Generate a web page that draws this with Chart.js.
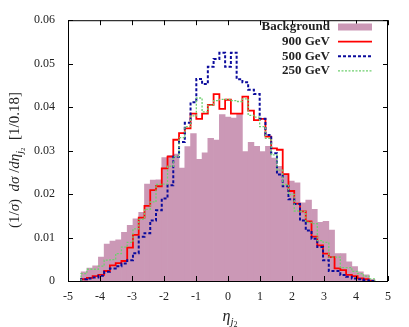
<!DOCTYPE html>
<html>
<head>
<meta charset="utf-8">
<script src="https://cdn.jsdelivr.net/npm/chart.js@4.4.1/dist/chart.umd.min.js"></script>
<style>
  body { margin: 0; background: #fff; }
</style>
</head>
<body>
<canvas id="myChart" width="409" height="327"></canvas>
<script>
// bin centres of the eta_j2 histogram (bin width 0.18)
const etaBins = [-4.50, -4.32, -4.14, -3.96, -3.78, -3.60, -3.42, -3.24, -3.06, -2.88,
                 -2.70, -2.52, -2.34, -2.16, -1.98, -1.80, -1.62, -1.44, -1.26, -1.08,
                 -0.90, -0.72, -0.54, -0.36, -0.18, 0.00, 0.18, 0.36, 0.54, 0.72,
                 0.90, 1.08, 1.26, 1.44, 1.62, 1.80, 1.98, 2.16, 2.34, 2.52,
                 2.70, 2.88, 3.06, 3.24, 3.42, 3.60, 3.78, 3.96, 4.14, 4.32, 4.50];
const binWidth = 0.18;

const background = [0.0021, 0.0030, 0.0035, 0.0055, 0.0085, 0.0092, 0.0095, 0.0112, 0.0128, 0.0143,
                    0.0158, 0.0223, 0.0232, 0.0233, 0.0284, 0.0289, 0.0292, 0.0260, 0.0309, 0.0339,
                    0.0280, 0.0295, 0.0328, 0.0324, 0.0383, 0.0377, 0.0375, 0.0385, 0.0298, 0.0319,
                    0.0310, 0.0298, 0.0310, 0.0283, 0.0264, 0.0246, 0.0230, 0.0226, 0.0180, 0.0186,
                    0.0165, 0.0135, 0.0137, 0.0117, 0.0063, 0.0063, 0.0044, 0.0033, 0.0021, 0.0014, 0.0004];

const gev900 = [0.0004, 0.0007, 0.0011, 0.0014, 0.0023, 0.0036, 0.0041, 0.0046, 0.0077, 0.0106,
                0.0146, 0.0173, 0.0209, 0.0218, 0.0259, 0.0286, 0.0325, 0.0340, 0.0351, 0.0385,
                0.0373, 0.0385, 0.0405, 0.0430, 0.0396, 0.0417, 0.0385, 0.0385, 0.0424, 0.0392,
                0.0370, 0.0373, 0.0332, 0.0305, 0.0302, 0.0246, 0.0207, 0.0178, 0.0160, 0.0137,
                0.0102, 0.0082, 0.0063, 0.0055, 0.0029, 0.0025, 0.0014, 0.0011, 0.0006, 0.0004, 0.0000];

const gev500 = [0.0004, 0.0006, 0.0008, 0.0012, 0.0021, 0.0029, 0.0034, 0.0040, 0.0048, 0.0064,
                0.0102, 0.0110, 0.0139, 0.0163, 0.0190, 0.0220, 0.0286, 0.0320, 0.0364, 0.0411,
                0.0465, 0.0453, 0.0493, 0.0511, 0.0525, 0.0493, 0.0525, 0.0464, 0.0457, 0.0440,
                0.0430, 0.0373, 0.0336, 0.0294, 0.0245, 0.0218, 0.0188, 0.0177, 0.0139, 0.0116,
                0.0097, 0.0078, 0.0048, 0.0023, 0.0023, 0.0014, 0.0010, 0.0006, 0.0004, 0.0002, 0.0000];

const gev250 = [0.0017, 0.0027, 0.0027, 0.0034, 0.0048, 0.0049, 0.0063, 0.0078, 0.0089, 0.0120,
                0.0142, 0.0165, 0.0182, 0.0222, 0.0223, 0.0264, 0.0286, 0.0330, 0.0355, 0.0380,
                0.0421, 0.0389, 0.0404, 0.0415, 0.0418, 0.0418, 0.0415, 0.0413, 0.0419, 0.0381,
                0.0377, 0.0355, 0.0328, 0.0290, 0.0255, 0.0222, 0.0199, 0.0161, 0.0160, 0.0135,
                0.0132, 0.0093, 0.0089, 0.0055, 0.0055, 0.0031, 0.0031, 0.0022, 0.0017, 0.0011, 0.0005];

const xTicks = [-5, -4, -3, -2, -1, 0, 1, 2, 3, 4, 5];
const yTicks = [0, 0.01, 0.02, 0.03, 0.04, 0.05, 0.06];

const pink = 'rgb(203, 152, 182)';

// turn bin values into a histogram outline (flat top over each bin)
function stepPoints(values) {
    const pts = [{ x: etaBins[0] - binWidth / 2, y: 0 }];
    values.forEach((v, i) => {
        pts.push({ x: etaBins[i] - binWidth / 2, y: v });
        pts.push({ x: etaBins[i] + binWidth / 2, y: v });
    });
    pts.push({ x: etaBins[etaBins.length - 1] + binWidth / 2, y: 0 });
    return pts;
}

// draw a run of text pieces (for sub/superscripts) centred on cx
function drawRich(ctx, pieces, cx, cy) {
    let total = 0;
    pieces.forEach(p => { ctx.font = p.font; total += ctx.measureText(p.t).width; });
    let x = cx - total / 2;
    pieces.forEach(p => {
        ctx.font = p.font;
        ctx.fillText(p.t, x, cy + (p.dy || 0));
        x += ctx.measureText(p.t).width;
    });
}

const legendItems = [
    { label: 'Background', kind: 'box', color: pink },
    { label: '900 GeV', color: '#ff0000', width: 1.8, dash: [] },
    { label: '500 GeV', color: '#0b0b9c', width: 2, dash: [3, 2] },
    { label: '250 GeV', color: '#6fcf6f', width: 1.3, dash: [2, 1.5] }
];

const framePlugin = {
    id: 'frame',
    afterDraw(chart) {
        const { ctx, chartArea: a, scales } = chart;
        ctx.save();
        ctx.strokeStyle = '#000';
        ctx.lineWidth = 1;
        ctx.strokeRect(a.left + 0.5, a.top + 0.5, a.right - a.left - 1, a.bottom - a.top);

        // inward ticks on all four sides
        ctx.beginPath();
        xTicks.forEach(v => {
            const px = Math.round(scales.x.getPixelForValue(v)) + 0.5;
            ctx.moveTo(px, a.bottom); ctx.lineTo(px, a.bottom - 5);
            ctx.moveTo(px, a.top); ctx.lineTo(px, a.top + 5);
        });
        yTicks.forEach(v => {
            const py = Math.round(scales.y.getPixelForValue(v)) + 0.5;
            ctx.moveTo(a.left, py); ctx.lineTo(a.left + 5, py);
            ctx.moveTo(a.right, py); ctx.lineTo(a.right - 5, py);
        });
        ctx.stroke();

        // legend, text right aligned with the sample on the right
        ctx.textBaseline = 'middle';
        legendItems.forEach((item, i) => {
            const y = 27 + i * 14.6;
            ctx.font = 'bold 13px "Liberation Serif"';
            ctx.fillStyle = '#222';
            ctx.textAlign = 'right';
            ctx.fillText(item.label, 330, y);
            if (item.kind === 'box') {
                ctx.fillStyle = item.color;
                ctx.fillRect(338, y - 3.5, 34, 7);
            } else {
                ctx.strokeStyle = item.color;
                ctx.lineWidth = item.width;
                ctx.setLineDash(item.dash);
                ctx.beginPath();
                ctx.moveTo(338, y); ctx.lineTo(372, y);
                ctx.stroke();
                ctx.setLineDash([]);
            }
        });

        // axis titles
        ctx.fillStyle = '#222';
        ctx.textAlign = 'left';
        ctx.textBaseline = 'alphabetic';
        drawRich(ctx, [
            { t: 'η', font: 'italic 16px "Liberation Serif"' },
            { t: 'j', font: 'italic 11px "Liberation Serif"', dy: 4 },
            { t: '2', font: '8px "Liberation Serif"', dy: 6 }
        ], 230, 321);

        ctx.translate(19, 160);
        ctx.rotate(-Math.PI / 2);
        drawRich(ctx, [
            { t: '(1/', font: '15px "Liberation Serif"' },
            { t: 'σ', font: 'italic 15px "Liberation Serif"' },
            { t: ')  ', font: '15px "Liberation Serif"' },
            { t: 'dσ', font: 'italic 15px "Liberation Serif"' },
            { t: ' /', font: '15px "Liberation Serif"' },
            { t: 'dη', font: 'italic 15px "Liberation Serif"' },
            { t: 'j', font: 'italic 10px "Liberation Serif"', dy: 4 },
            { t: '2', font: '7px "Liberation Serif"', dy: 6 },
            { t: '  [1/0.18]', font: '15px "Liberation Serif"' }
        ], 0, 0);
        ctx.restore();
    }
};

function plotGraph() {
    const ctx = document.getElementById('myChart').getContext('2d');

    new Chart(ctx, {
        type: 'line',
        data: {
            datasets: [
                {
                    type: 'bar',
                    label: 'Background',
                    data: etaBins.map((x, i) => ({ x: x, y: background[i] })),
                    backgroundColor: pink,
                    borderWidth: 0,
                    barPercentage: 1,
                    categoryPercentage: 1,
                    order: 4
                },
                {
                    label: '900 GeV',
                    data: stepPoints(gev900),
                    borderColor: '#ff0000',
                    borderWidth: 1.8,
                    pointRadius: 0,
                    fill: false,
                    order: 3
                },
                {
                    label: '500 GeV',
                    data: stepPoints(gev500),
                    borderColor: '#0b0b9c',
                    borderWidth: 2,
                    borderDash: [3, 2],
                    pointRadius: 0,
                    fill: false,
                    order: 2
                },
                {
                    label: '250 GeV',
                    data: stepPoints(gev250),
                    borderColor: '#6fcf6f',
                    borderWidth: 1.3,
                    borderDash: [2, 1.5],
                    pointRadius: 0,
                    fill: false,
                    order: 1
                }
            ]
        },
        options: {
            responsive: false,
            animation: false,
            layout: { padding: { left: 0, right: 21, top: 17, bottom: 0 } },
            plugins: { legend: { display: false }, tooltip: { enabled: false } },
            scales: {
                x: {
                    type: 'linear',
                    min: -5,
                    max: 5,
                    offset: false,
                    grid: { display: false, drawTicks: false },
                    border: { display: false },
                    afterBuildTicks: s => { s.ticks = xTicks.map(v => ({ value: v })); },
                    afterFit: s => { s.height = 46; },
                    ticks: {
                        padding: 9,
                        color: '#222',
                        font: { family: '"Liberation Serif"', size: 12 },
                        maxRotation: 0,
                        callback: v => String(v)
                    }
                },
                y: {
                    min: 0,
                    max: 0.06,
                    grid: { display: false, drawTicks: false },
                    border: { display: false },
                    afterBuildTicks: s => { s.ticks = yTicks.map(v => ({ value: v })); },
                    afterFit: s => { s.width = 68; },
                    ticks: {
                        padding: 13,
                        color: '#222',
                        font: { family: '"Liberation Serif"', size: 12 },
                        callback: v => v === 0 ? '0' : v.toFixed(2)
                    }
                }
            }
        },
        plugins: [framePlugin]
    });
}

plotGraph();
</script>
</body>
</html>
